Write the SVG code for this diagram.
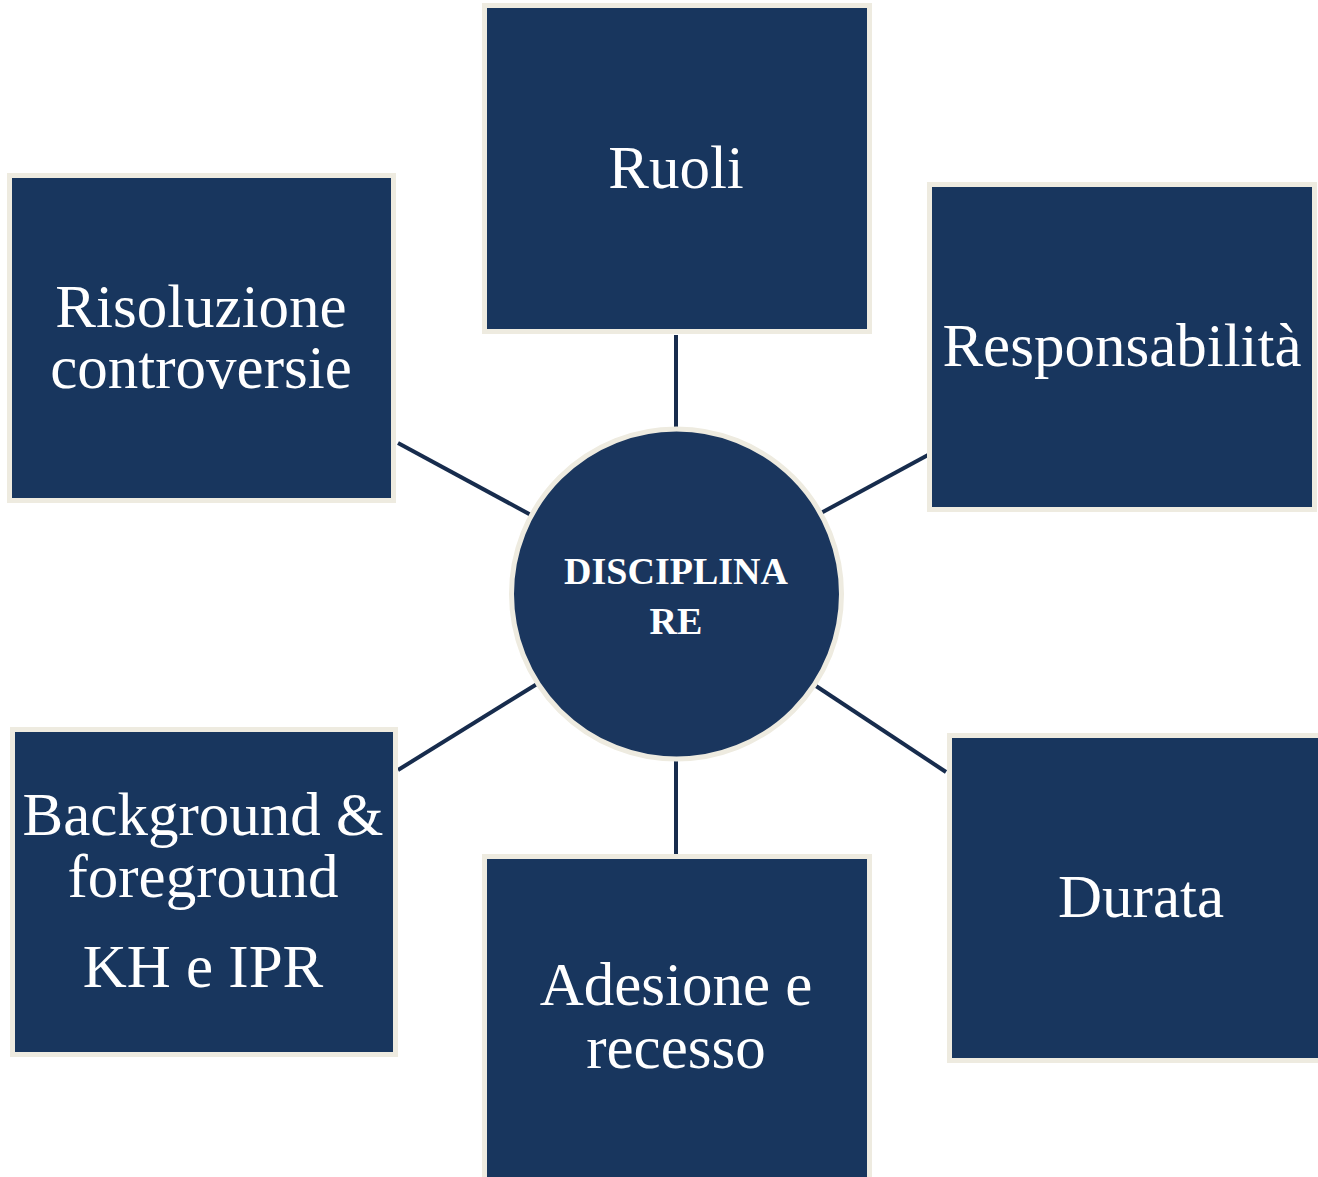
<svg xmlns="http://www.w3.org/2000/svg" width="1318" height="1177" viewBox="0 0 1318 1177">
<style>
.box{fill:#18365E;stroke:#EEEBE0;stroke-width:5}
.t{fill:#FFFFFF;font-family:"Liberation Serif","Times New Roman",serif;font-size:61px;text-anchor:middle}
.c{fill:#FFFFFF;font-family:"Liberation Serif","Times New Roman",serif;font-size:38px;font-weight:bold;text-anchor:middle}
.ln{stroke:#172C4D;stroke-width:4;fill:none}
</style>
<rect width="1318" height="1177" fill="#FFFFFF"/>
<g id="connectors">
<line class="ln" x1="676" y1="335" x2="676" y2="431"/>
<line class="ln" x1="676" y1="757" x2="676" y2="854"/>
<line class="ln" x1="398" y1="443" x2="531" y2="515"/>
<line class="ln" x1="821" y1="513" x2="928" y2="455"/>
<line class="ln" x1="398" y1="770" x2="537" y2="684"/>
<line class="ln" x1="816" y1="686" x2="946" y2="772"/>
</g>
<g id="ruoli">
<rect class="box" x="484.5" y="5.5" width="385" height="326"/>
<text class="t" x="676" y="188">Ruoli</text>
</g>
<g id="risoluzione">
<rect class="box" x="9.5" y="175.5" width="384" height="325"/>
<text class="t" x="201" y="327">Risoluzione</text>
<text class="t" x="201" y="388">controversie</text>
</g>
<g id="responsabilita">
<rect class="box" x="929.5" y="184.5" width="385" height="325"/>
<text class="t" x="1122" y="366">Responsabilità</text>
</g>
<g id="background">
<rect class="box" x="12.5" y="729.5" width="383" height="325"/>
<text class="t" x="203" y="835">Background &amp;</text>
<text class="t" x="203" y="897">foreground</text>
<text class="t" x="203" y="987">KH e IPR</text>
</g>
<g id="durata">
<rect class="box" x="949.5" y="735.5" width="380" height="325"/>
<text class="t" x="1141" y="917">Durata</text>
</g>
<g id="adesione">
<rect class="box" x="484.5" y="856.5" width="385" height="340"/>
<text class="t" x="676" y="1005">Adesione e</text>
<text class="t" x="676" y="1068">recesso</text>
</g>
<g id="disciplinare">
<circle cx="676.5" cy="594" r="165" fill="#1A365E" stroke="#EEEBE0" stroke-width="5"/>
<text class="c" x="676" y="584">DISCIPLINA</text>
<text class="c" x="676" y="634">RE</text>
</g>
</svg>
